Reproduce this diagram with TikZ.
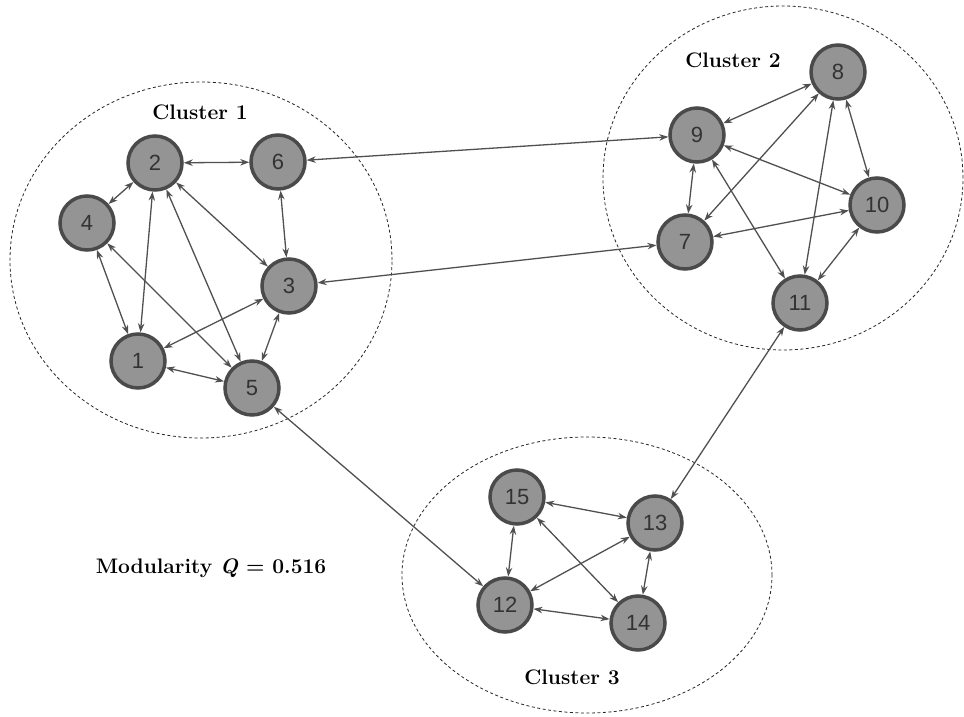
\documentclass[tikz,border=0pt]{standalone}
\usepackage{fontspec}
\usepackage{tikz}
\usetikzlibrary{arrows.meta}
\newfontfamily\numfont{Liberation Sans}
\definecolor{nodefill}{HTML}{949494}
\definecolor{nodeline}{HTML}{4A4A4A}
\definecolor{linkcol}{HTML}{505050}
\tikzstyle{vertex} = [circle, draw=nodeline, line width=3.5pt, fill=nodefill, minimum size=54pt, inner sep=0pt, text=black!80, font=\numfont\fontsize{22}{22}\selectfont]
\tikzstyle{link} = [draw=linkcol, line width=1.3pt, {Stealth[length=9pt,width=6.5pt]}-{Stealth[length=9pt,width=6.5pt]}]
\tikzstyle{cluster} = [draw=black!85, dash pattern=on 3pt off 2.5pt, line width=0.8pt]
\tikzstyle{title} = [font=\bfseries\fontsize{21}{21}\selectfont]

\begin{document}
\begin{tikzpicture}[x=1pt,y=-1pt]
    \useasboundingbox (0,0) rectangle (964,717);
    % clusters
    \draw[cluster] (201,260) ellipse [x radius=191pt, y radius=178pt];
    \draw[cluster] (783,178) ellipse [x radius=180pt, y radius=172pt];
    \draw[cluster] (587,575) ellipse [x radius=185pt, y radius=138pt];
    \node [title] (c1) at (200,112) {Cluster 1};
    \node [title] (c2) at (733,60) {Cluster 2};
    \node [title] (c3) at (572,677) {Cluster 3};
    \node [title] (q) at (211,568) {Modularity \textit{Q} = 0.516};
    % cluster 1
    \node [vertex] (n2) at (155,163) {2};
    \node [vertex] (n6) at (278,162) {6};
    \node [vertex] (n4) at (87,223) {4};
    \node [vertex] (n3) at (289,286) {3};
    \node [vertex] (n1) at (138,361) {1};
    \node [vertex] (n5) at (252,388) {5};
    % cluster 2
    \node [vertex] (n8) at (838,72) {8};
    \node [vertex] (n9) at (697,135) {9};
    \node [vertex] (n10) at (877,205) {10};
    \node [vertex] (n7) at (685,242) {7};
    \node [vertex] (n11) at (800,303) {11};
    % cluster 3
    \node [vertex] (n15) at (517,497) {15};
    \node [vertex] (n13) at (655,523) {13};
    \node [vertex] (n12) at (505,605) {12};
    \node [vertex] (n14) at (638,623) {14};
    % links
    \draw[link] (n2) -- (n6);
    \draw[link] (n2) -- (n4);
    \draw[link] (n2) -- (n1);
    \draw[link] (n2) -- (n5);
    \draw[link] (n2) -- (n3);
    \draw[link] (n6) -- (n3);
    \draw[link] (n4) -- (n1);
    \draw[link] (n4) -- (n5);
    \draw[link] (n3) -- (n1);
    \draw[link] (n3) -- (n5);
    \draw[link] (n1) -- (n5);
    \draw[link] (n9) -- (n8);
    \draw[link] (n7) -- (n8);
    \draw[link] (n11) -- (n8);
    \draw[link] (n10) -- (n8);
    \draw[link] (n9) -- (n7);
    \draw[link] (n9) -- (n10);
    \draw[link] (n9) -- (n11);
    \draw[link] (n10) -- (n7);
    \draw[link] (n10) -- (n11);
    \draw[link] (n15) -- (n13);
    \draw[link] (n15) -- (n12);
    \draw[link] (n15) -- (n14);
    \draw[link] (n13) -- (n12);
    \draw[link] (n13) -- (n14);
    \draw[link] (n12) -- (n14);
    % between clusters
    \draw[link] (n6) -- (n9);
    \draw[link] (n3) -- (n7);
    \draw[link] (n5) -- (n12);
    \draw[link] (n11) -- (n13);
\end{tikzpicture}
\end{document}
